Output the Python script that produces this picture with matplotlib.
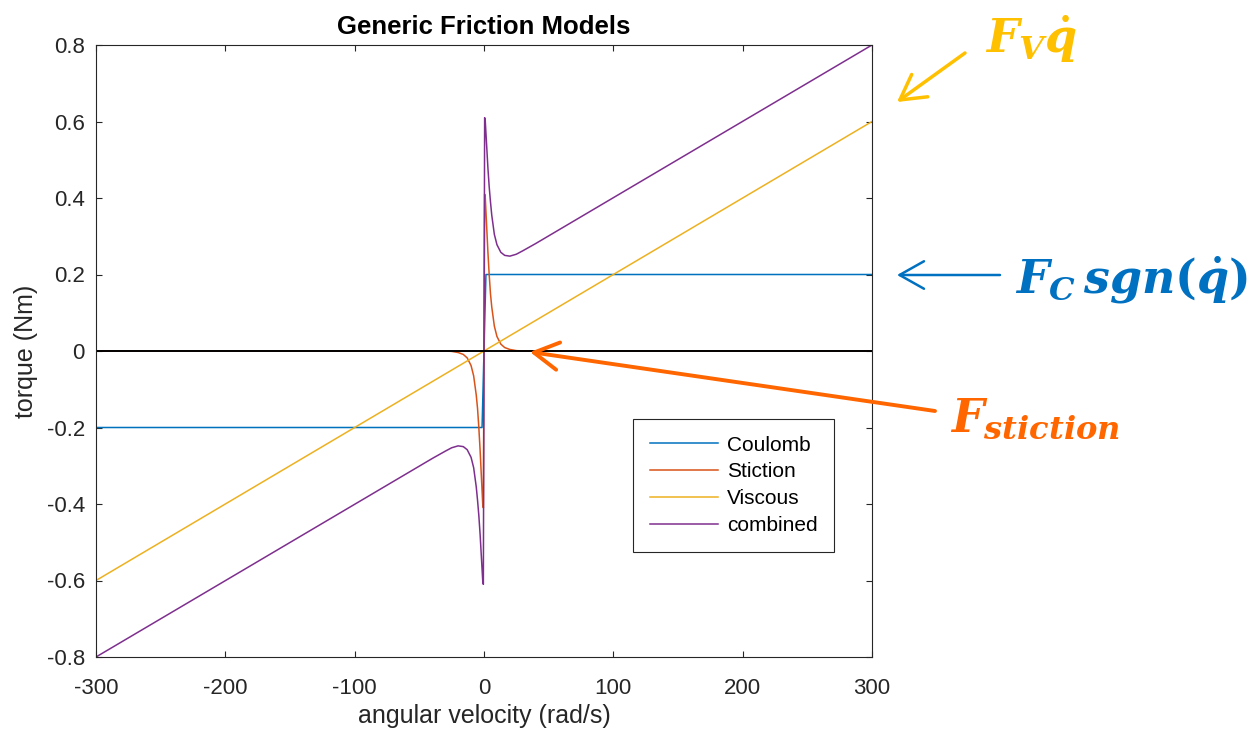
import matplotlib
matplotlib.use('Agg')
import matplotlib.pyplot as plt
from matplotlib.ticker import FuncFormatter

plt.rcParams['font.family'] = ['Liberation Sans', 'DejaVu Sans']
plt.rcParams['axes.unicode_minus'] = False
plt.rcParams['mathtext.fontset'] = 'custom'
plt.rcParams['mathtext.it'] = 'DejaVu Serif:italic:bold'
plt.rcParams['mathtext.rm'] = 'DejaVu Serif:bold'
plt.rcParams['mathtext.bf'] = 'DejaVu Serif:bold'

# data
vel_coulomb = [-300, -1.5, 0, 1.5, 300]
coulomb = [-0.2, -0.2, 0, 0.2, 0.2]

vel_viscous = [-300, 300]
viscous = [-0.6, 0.6]

vel_stiction = [-300, -30, -25, -20, -16, -13, -10, -8, -6, -5, -4, -3, -2, -1, -0.5, 0,
                0.5, 1, 2, 3, 4, 5, 6, 8, 10, 13, 16, 20, 25, 30, 300]
stiction = [0, 0, -0.001, -0.004, -0.009, -0.018, -0.038, -0.065, -0.115, -0.15, -0.2, -0.26, -0.33, -0.4, -0.41, 0,
            0.41, 0.4, 0.33, 0.26, 0.2, 0.15, 0.115, 0.065, 0.038, 0.018, 0.009, 0.004, 0.001, 0, 0]

vel_combined = [-300, -40, -30, -25, -20, -16, -13, -10, -8, -6, -5, -4, -3, -2, -1, -0.5, 0,
                0.5, 1, 2, 3, 4, 5, 6, 8, 10, 13, 16, 20, 25, 30, 40, 300]
combined = [-0.8, -0.281, -0.262, -0.253, -0.248, -0.25, -0.258, -0.278, -0.305, -0.355, -0.39, -0.43, -0.48, -0.54, -0.6, -0.61, 0,
            0.61, 0.6, 0.54, 0.48, 0.43, 0.39, 0.355, 0.305, 0.278, 0.258, 0.25, 0.248, 0.253, 0.262, 0.281, 0.8]

x_ticks = [-300, -200, -100, 0, 100, 200, 300]
y_ticks = [-0.8, -0.6, -0.4, -0.2, 0, 0.2, 0.4, 0.6, 0.8]

W, H = 1259, 733
fig = plt.figure(figsize=(W / 100, H / 100), dpi=100)
ax = fig.add_axes([96 / W, 1 - 657 / H, (872 - 96) / W, (657 - 45) / H])

lw = 1.1
ax.plot(vel_coulomb, coulomb, color='#0072BD', lw=lw, label='Coulomb')
ax.plot(vel_stiction, stiction, color='#D95319', lw=lw, label='Stiction')
ax.plot(vel_viscous, viscous, color='#EDB120', lw=lw, label='Viscous')
ax.plot(vel_combined, combined, color='#7E2F8E', lw=lw, label='combined')
ax.axhline(0, color='black', lw=1.4)

ax.set_xlim(-300, 300)
ax.set_ylim(-0.8, 0.8)
ax.set_xticks(x_ticks)
ax.set_yticks(y_ticks)
ax.xaxis.set_major_formatter(FuncFormatter(lambda v, p: f'{v:g}'))
ax.yaxis.set_major_formatter(FuncFormatter(lambda v, p: f'{v:g}'))
ax.tick_params(direction='in', top=True, right=True, length=4.5, width=0.8,
               color='#262626', labelcolor='#262626', labelsize=16, pad=8)
ax.tick_params(axis='x', pad=15)
for s in ax.spines.values():
    s.set_color('#262626')
    s.set_linewidth(0.8)

ax.set_xlabel('angular velocity (rad/s)', fontsize=18, color='#262626', labelpad=4)
ax.set_ylabel('torque (Nm)', fontsize=18, color='#262626', labelpad=6)
ax.set_title('Generic Friction Models', fontsize=18.5, fontweight='bold', pad=8)

leg = ax.legend(loc='lower left', bbox_to_anchor=(0.692, 0.1716), borderaxespad=0,
                fontsize=15, handlelength=3.3, handletextpad=0.4, borderpad=0.8,
                labelspacing=0.38, fancybox=False, framealpha=1, edgecolor='#262626')
leg.get_frame().set_linewidth(0.8)

# annotations outside the axes
gold, blue, orange = '#FFC000', '#0070C0', '#FF6600'
fs = 33
fig.text(985 / W, 1 - 53 / H, r'$F_V\dot{q}$', color=gold, fontsize=fs, va='baseline', ha='left')
fig.text(1015 / W, 1 - 293 / H, r'$F_C\,sgn(\dot{q})$', color=blue, fontsize=fs, va='baseline', ha='left')
fig.text(950 / W, 1 - 432 / H, r'$F_{stiction}$', color=orange, fontsize=fs, va='baseline', ha='left')

def arrow(x0, y0, x1, y1, color, lw):
    ax.annotate('', xy=(x1, H - y1), xytext=(x0, H - y0), xycoords='figure pixels',
                textcoords='figure pixels', annotation_clip=False,
                arrowprops=dict(arrowstyle='->,head_length=0.8,head_width=0.45', color=color,
                                lw=lw, shrinkA=0, shrinkB=0, mutation_scale=22))

arrow(965, 53, 897, 102, gold, 2.5)
arrow(1000, 275, 897, 275, blue, 1.8)
arrow(935, 411, 530, 352, orange, 2.8)

fig.savefig('out.png', dpi=100)
